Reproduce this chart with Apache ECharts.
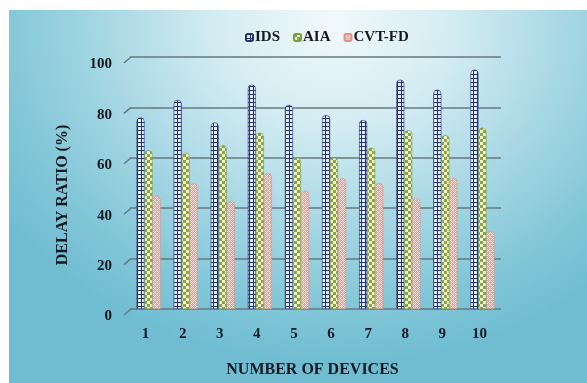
<!DOCTYPE html>
<html>
<head>
<meta charset="utf-8">
<script src="https://cdn.jsdelivr.net/npm/echarts@6/dist/echarts.min.js"></script>
<style>
  html, body { margin: 0; padding: 0; background: #ffffff; width: 587px; height: 383px; overflow: hidden; }
  #chart {
    position: absolute; left: 9px; top: 10px; width: 578px; height: 373px;
    background: radial-gradient(ellipse 400px 340px at 325px 15px,
      #f2f9fb 0%, #d3ecf2 30%, #a4d6e3 60%, #83c7d8 82%, #70bdd2 100%);
  }
</style>
</head>
<body>
<div id="chart"></div>
<script>
// Delay ratio (%) per number of devices
const devices = ['1', '2', '3', '4', '5', '6', '7', '8', '9', '10'];
const seriesNames = ['IDS', 'AIA', 'CVT-FD'];
const idsValues = [76, 83, 74, 89, 81, 77, 75, 91, 87, 95];
const aiaValues = [63, 62, 65, 70, 60, 60, 64, 71, 69, 72];
const cvtValues = [45, 50, 43, 54, 47, 52, 50, 44, 52, 31];
const yTicks = [0, 20, 40, 60, 80, 100];

function makeTile(w, h, draw) {
  const c = document.createElement('canvas');
  c.width = w; c.height = h;
  draw(c.getContext('2d'));
  return { image: c, repeat: 'repeat' };
}

// small grid of navy lines
const idsFill = makeTile(4, 4, ctx => {
  ctx.fillStyle = '#e4eaf7'; ctx.fillRect(0, 0, 4, 4);
  ctx.fillStyle = '#223276';
  ctx.fillRect(0, 0, 4, 1);
  ctx.fillRect(0, 0, 1, 4);
});
// green / pale yellow checkerboard
const aiaFill = makeTile(6, 6, ctx => {
  ctx.fillStyle = '#f4f5c8'; ctx.fillRect(0, 0, 6, 6);
  ctx.fillStyle = '#88a648';
  ctx.fillRect(0, 0, 3, 3);
  ctx.fillRect(3, 3, 3, 3);
});
// pink diagonal weave
const cvtFill = makeTile(4, 4, ctx => {
  ctx.fillStyle = '#fbeae6'; ctx.fillRect(0, 0, 4, 4);
  ctx.fillStyle = '#e49c92';
  for (let i = 0; i < 4; i++) {
    ctx.fillRect(i, i, 1, 1);
    ctx.fillRect((i + 2) % 4, i, 1, 1);
  }
  ctx.fillStyle = '#efb9b0';
  ctx.fillRect(1, 0, 1, 1); ctx.fillRect(3, 2, 1, 1);
});

const fonts = '"Liberation Serif", "Times New Roman", serif';
const textColor = '#141821';
const chart = echarts.init(document.getElementById('chart'), null, { renderer: 'canvas' });

function barSeries(name, values, fill, edge) {
  return {
    name: name,
    type: 'bar',
    data: values,
    barWidth: 8,
    barGap: '0%',
    itemStyle: {
      color: fill,
      borderColor: edge,
      borderWidth: 0.6,
      borderRadius: [4, 4, 0, 0]
    },
    z: 3
  };
}

chart.setOption({
  animation: false,
  legend: {
    data: seriesNames,
    left: 231,
    top: 15,
    itemWidth: 7,
    itemHeight: 7,
    itemGap: 13,
    textStyle: { fontFamily: fonts, fontWeight: 'bold', fontSize: 15, color: textColor, padding: [0, 0, 0, -3] }
  },
  grid: { left: 121, right: 86, top: 47, bottom: 67, containLabel: false },
  xAxis: {
    type: 'category',
    data: devices,
    axisLine: { show: false },
    axisTick: { show: false },
    axisLabel: {
      margin: 18,
      fontFamily: fonts, fontWeight: 'bold', fontSize: 15, color: textColor,
      padding: [0, 6, 0, 0]
    },
    name: 'NUMBER OF DEVICES',
    nameLocation: 'middle',
    nameGap: 53,
    nameTextStyle: { fontFamily: fonts, fontWeight: 'bold', fontSize: 16, color: textColor, padding: [0, 6, 0, 0] }
  },
  yAxis: {
    type: 'value',
    min: yTicks[0],
    max: yTicks[yTicks.length - 1],
    interval: 20,
    axisLine: { show: false },
    axisTick: { show: false },
    splitLine: { lineStyle: { color: '#66787f', width: 1.5 } },
    axisLabel: {
      margin: 18,
      verticalAlign: 'top',
      fontFamily: fonts, fontWeight: 'bold', fontSize: 15, color: textColor
    },
    name: 'DELAY RATIO (%)',
    nameLocation: 'middle',
    nameGap: 59,
    nameRotate: 90,
    nameTextStyle: { fontFamily: fonts, fontWeight: 'bold', fontSize: 16, color: textColor, padding: [0, 24, 0, 0] }
  },
  series: [
    barSeries(seriesNames[0], idsValues, idsFill, '#223276'),
    barSeries(seriesNames[1], aiaValues, aiaFill, '#7d9a3f'),
    barSeries(seriesNames[2], cvtValues, cvtFill, '#d9948b'),
    {
      // slanted corner of the back wall where each grid line meets the side
      type: 'custom',
      silent: true,
      legendHoverLink: false,
      data: yTicks.map(v => [0, v]),
      renderItem: function (params, api) {
        const p = api.coord([0, api.value(1)]);
        const x0 = params.coordSys.x;
        return {
          type: 'line',
          shape: { x1: x0 - 6, y1: p[1] + 6, x2: x0 + 1, y2: p[1] },
          style: { stroke: '#66787f', lineWidth: 1.5 }
        };
      },
      z: 2
    }
  ]
});
</script>
</body>
</html>
